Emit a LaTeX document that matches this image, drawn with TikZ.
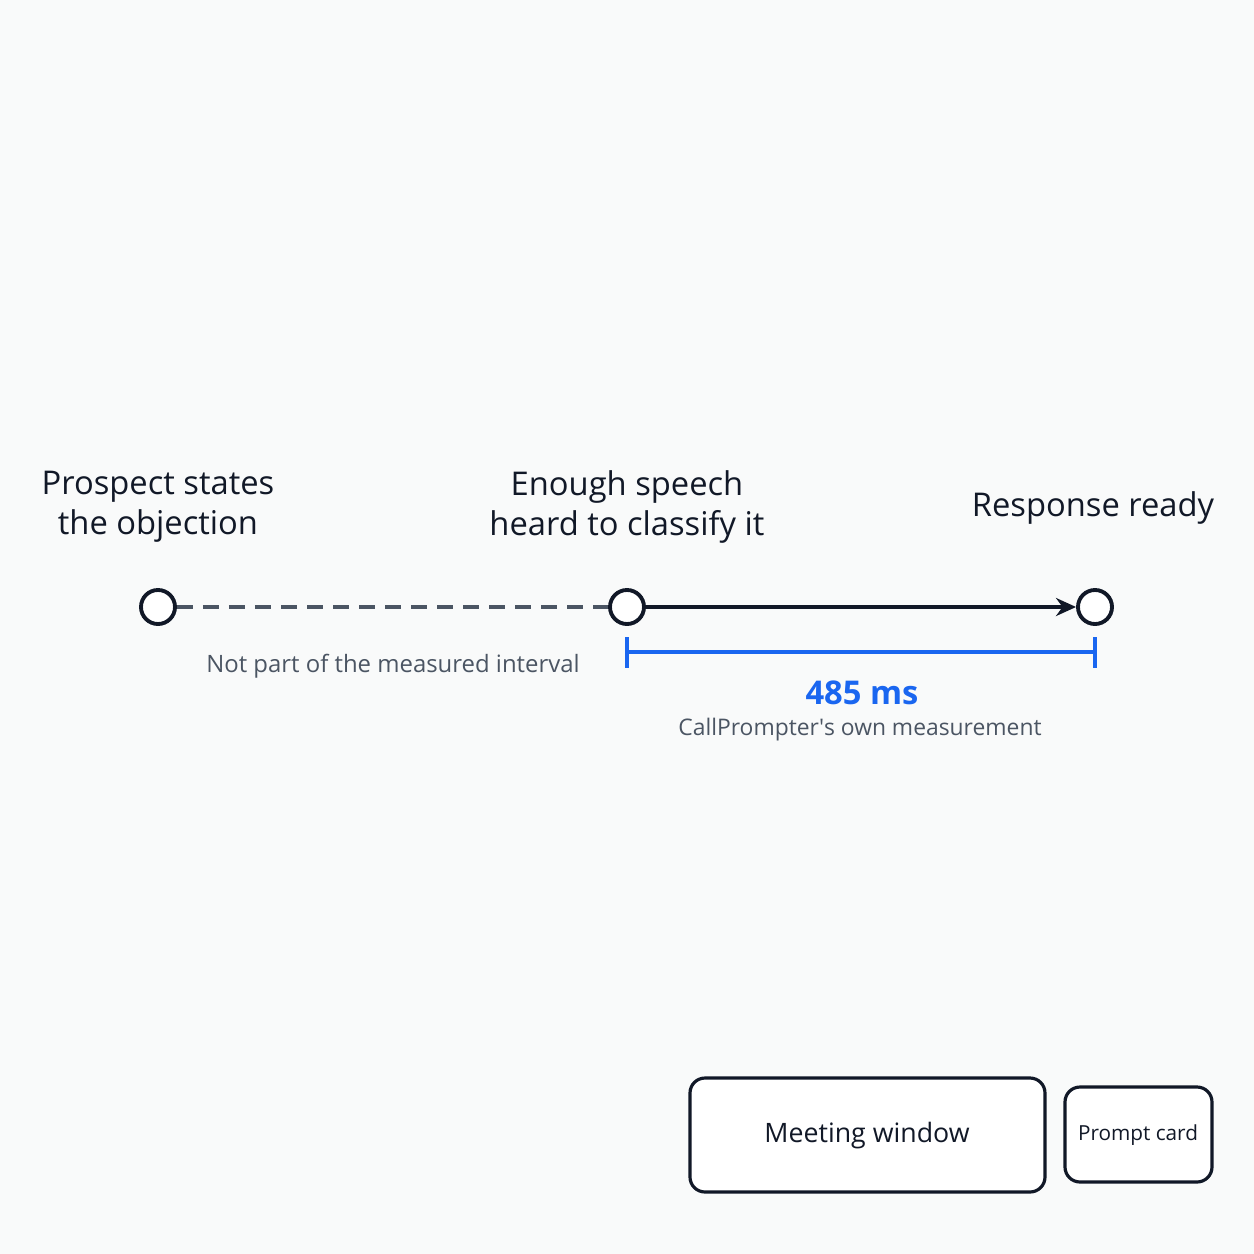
\documentclass[tikz,border=0pt]{standalone}
\usepackage{fontspec}
\setmainfont{Open Sans}
\usetikzlibrary{arrows.meta}
\definecolor{ink}{HTML}{111827}
\definecolor{slate}{HTML}{4B5563}
\definecolor{accent}{HTML}{1A66F0}
\definecolor{paper}{HTML}{F9FAFA}
\tikzset{
  event/.style = {circle, draw=ink, line width=1.1pt, fill=white, minimum size=0.34cm, inner sep=0pt},
  title/.style = {text=ink, font=\fontsize{9.3}{11.3}\selectfont, align=center},
  note/.style = {text=slate, font=\fontsize{6.5}{8}\selectfont},
  panel/.style = {draw=ink, line width=0.9pt, rounded corners=0.15cm, fill=white}
}
\begin{document}
\begin{tikzpicture}[x=0.01cm, y=-0.01cm]
    \fill[paper] (0,0) rectangle (1254,1254);
    \useasboundingbox (0,0) rectangle (1254,1254);

    \node[event] (start) at (158,607) {};
    \node[event] (heard) at (627,607) {};
    \node[event] (ready) at (1095,607) {};

    \node[title] (lstart) at (158,507) {Prospect states\\the objection};
    \node[title] (lheard) at (627,507) {Enough speech\\heard to classify it};
    \node[title] (lready) at (1093,508) {Response ready};

    \draw[slate, line width=1.1pt, dash pattern=on 0.16cm off 0.1cm] (start) -- (heard);
    \draw[ink, line width=1.1pt, -{Stealth[length=0.2cm, width=0.18cm]}] (heard) -- (ready);

    \coordinate (bl) at (627,652);
    \coordinate (br) at (1095,652);
    \draw[accent, line width=1.2pt] (bl) -- (br);
    \draw[accent, line width=1.2pt] ([yshift=0.15cm]bl) -- ([yshift=-0.16cm]bl);
    \draw[accent, line width=1.2pt] ([yshift=0.15cm]br) -- ([yshift=-0.16cm]br);

    \node[note, font=\fontsize{6.8}{8}\selectfont] (skip) at (393,666) {Not part of the measured interval};
    \node[text=accent, font=\bfseries\fontsize{9.3}{11}\selectfont] (value) at (862,693) {485 ms};
    \node[note] (own) at (860,730) {CallPrompter\textquotesingle s own measurement};

    \draw[panel] (690,1078) rectangle (1045,1192);
    \node[title, font=\fontsize{7.6}{10}\selectfont] (meet) at (867,1136) {Meeting window};
    \draw[panel] (1065,1087) rectangle (1212,1182);
    \node[title, font=\fontsize{5.9}{8}\selectfont] (card) at (1138,1135) {Prompt card};
\end{tikzpicture}
\end{document}
